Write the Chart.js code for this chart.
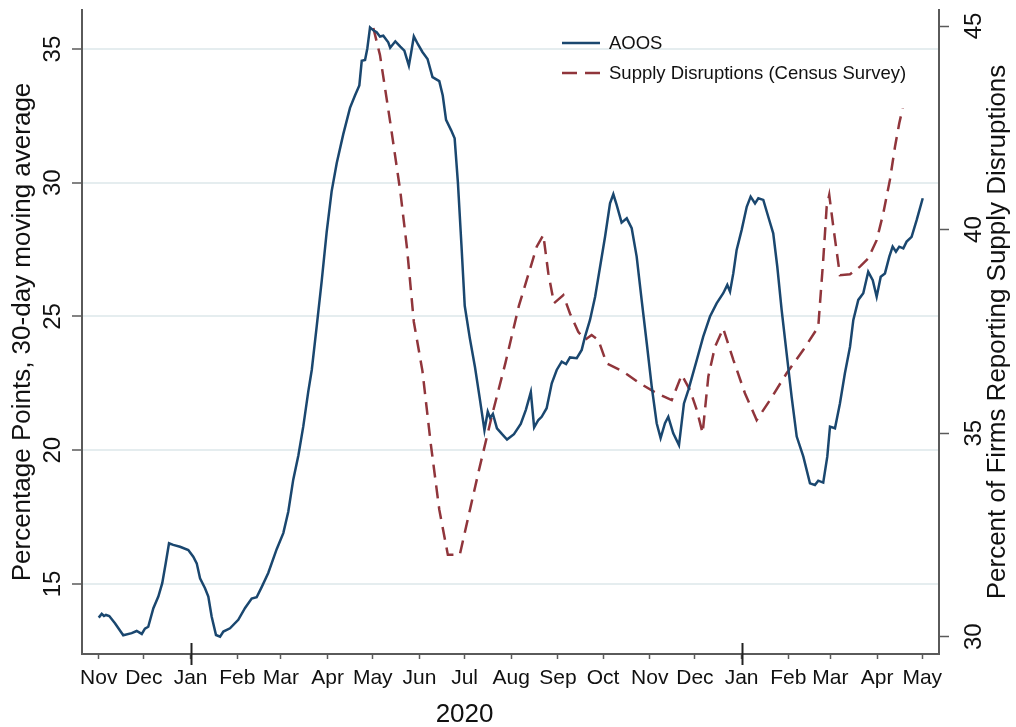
<!DOCTYPE html>
<html>
<head>
<meta charset="utf-8">
<script src="https://cdn.jsdelivr.net/npm/chart.js@4.4.1/dist/chart.umd.min.js"></script>
<style>
  html, body { margin: 0; padding: 0; background: #ffffff; }
  #wrap { width: 1016px; height: 727px; position: relative; }
</style>
</head>
<body>
<div id="wrap"><canvas id="c" width="1016" height="727"></canvas></div>
<script>
// ---------- DATA (x = days since 1 Nov 2019) ----------
const monthLabels = ["Nov","Dec","Jan","Feb","Mar","Apr","May","Jun","Jul","Aug","Sep","Oct","Nov","Dec","Jan","Feb","Mar","Apr","May"];
const monthTickDays = [0,30,61,92,121,152,182,213,243,274,305,335,366,396,427,458,486,517,547];
const yearLabel = "2020";
const yearLabelDay = 243;

const leftTicks = [15,20,25,30,35];
const rightTicks = [30,35,40,45];

const aoosDays = [0,2.0,3.5,4.8,7.0,10.8,16.3,21.9,25.2,28.6,30.7,32.9,36.3,39.6,42.2,44.5,46.7,49.5,54.0,59.5,62.8,65.1,67.3,70.6,72.8,75.0,77.9,80.6,82.8,87.2,92.7,97.2,101.6,104.9,108.3,112.6,118.2,122.6,125.9,129.2,132.6,135.9,139.2,141.5,144.8,148.1,151.4,154.7,158.1,162.4,166.9,170.2,173.1,174.7,176.9,178.4,180.2,182.4,184.6,186.8,189.0,192.3,193.6,197.0,200.3,203.0,206.0,207.5,209.3,212.1,215.0,218.4,221.7,226.2,228.5,230.7,234.1,236.4,238.6,240.9,243.1,246.5,249.9,253.2,256.2,258.4,260.0,261.8,264.5,267.9,271.2,275.8,280.3,283.7,287.0,289.2,292.0,294.2,297.5,300.9,304.2,307.5,310.4,313.0,317.5,320.8,323.0,326.3,329.7,333.0,336.3,339.6,341.8,344.0,347.3,350.7,354.0,357.3,360.6,364.0,367.3,370.6,373.2,376.1,378.3,381.6,385.4,388.7,391.6,397.2,401.5,406.0,410.4,414.8,417.5,419.3,421.5,423.7,427.0,430.4,433.0,435.9,438.1,441.4,444.7,448.0,450.7,453.6,456.9,460.2,463.6,468.0,472.4,475.7,477.9,481.2,483.9,485.7,489.0,492.3,495.6,499.0,501.2,504.5,507.8,511.1,514.1,516.7,519.4,522.2,525.1,527.3,529.5,531.7,534.4,536.6,539.9,543.3,547.3];
const aoosValues = [13.74,13.88,13.80,13.84,13.80,13.53,13.08,13.16,13.24,13.13,13.33,13.40,14.09,14.53,15.03,15.77,16.52,16.46,16.39,16.27,16.02,15.77,15.21,14.84,14.53,13.78,13.09,13.03,13.22,13.34,13.66,14.10,14.45,14.50,14.89,15.41,16.30,16.90,17.70,18.90,19.80,20.90,22.20,23.00,24.64,26.32,28.15,29.68,30.74,31.81,32.80,33.26,33.64,34.56,34.59,35.02,35.81,35.70,35.63,35.47,35.50,35.25,35.05,35.29,35.09,34.94,34.38,34.86,35.47,35.17,34.89,34.63,33.95,33.80,33.26,32.35,31.96,31.66,29.98,27.69,25.40,24.18,23.11,21.89,20.75,21.44,21.21,21.36,20.82,20.60,20.40,20.60,20.98,21.51,22.17,20.85,21.13,21.25,21.57,22.50,23.00,23.31,23.22,23.47,23.44,23.75,24.25,24.87,25.74,26.86,27.98,29.23,29.57,29.17,28.51,28.67,28.30,27.24,25.62,24.00,22.38,21.01,20.45,21.01,21.25,20.63,20.19,21.75,22.25,23.37,24.25,25.00,25.49,25.87,26.18,25.93,26.62,27.49,28.23,29.10,29.48,29.23,29.42,29.36,28.73,28.11,26.86,25.24,23.62,22.00,20.51,19.76,18.76,18.70,18.86,18.79,19.76,20.88,20.82,21.75,22.88,23.87,24.87,25.62,25.87,26.67,26.36,25.74,26.49,26.61,27.24,27.61,27.42,27.61,27.55,27.80,27.98,28.61,29.42];

const supplyDays = [182.4,186.8,193.6,200.3,204.8,209.3,215.0,220.6,226.2,231.9,239.8,245.3,252.1,261.1,270.1,279.1,288.1,290.9,295.3,298.6,302.4,308.6,313.0,318.5,323.0,327.4,331.8,337.4,348.4,359.5,370.6,380.6,387.2,392.7,397.2,401.1,404.9,409.3,414.8,421.5,429.2,437.0,445.8,456.9,467.9,477.9,481.2,483.5,485.2,487.9,492.3,499.0,505.6,511.1,516.7,521.1,525.5,528.9,531.7,534.0];
const supplyValues = [44.95,44.29,42.64,40.94,39.53,37.73,36.53,34.72,33.12,32.01,32.01,32.91,34.02,35.42,36.72,38.13,39.23,39.58,39.87,38.93,38.19,38.39,37.94,37.49,37.29,37.41,37.29,36.71,36.51,36.22,35.98,35.81,36.43,36.06,35.57,35.00,36.39,37.12,37.57,36.80,35.98,35.32,35.81,36.47,37.04,37.61,39.25,40.56,40.85,40.07,38.88,38.90,39.09,39.29,39.74,40.40,41.22,42.04,42.61,42.98];

const seriesNames = ["AOOS", "Supply Disruptions (Census Survey)"];
const leftTitle = "Percentage Points, 30-day moving average";
const rightTitle = "Percent of Firms Reporting Supply Disruptions";

// ---------- STYLE ----------
const FONT = '"Liberation Sans", Arial, Helvetica, sans-serif';
const NAVY = '#1a476f';
const MAROON = '#90353b';
const AXIS = '#5a5a5a';
const GRID = '#e5edef';
const TEXT = '#111111';
const DASH = [13, 8];

const overlay = {
  id: 'overlay',
  afterDraw(chart) {
    const ctx = chart.ctx;
    const xs = chart.scales.x, yl = chart.scales.y, yr = chart.scales.y1;
    const area = chart.chartArea;
    ctx.save();
    ctx.fillStyle = TEXT;

    function rotText(txt, cx, cy, size) {
      ctx.save();
      ctx.font = size + 'px ' + FONT;
      ctx.textAlign = 'center';
      ctx.textBaseline = 'middle';
      ctx.translate(cx, cy);
      ctx.rotate(-Math.PI / 2);
      ctx.fillText(txt, 0, 0);
      ctx.restore();
    }
    // rotated y tick labels
    leftTicks.forEach(v => rotText(String(v), 53, yl.getPixelForValue(v), 24));
    rightTicks.forEach(v => rotText(String(v), 974, yr.getPixelForValue(v), 24));
    // axis titles
    const midY = (area.top + area.bottom) / 2;
    rotText(leftTitle, 23, midY, 26);
    rotText(rightTitle, 998, midY, 26);

    // major (January) ticks crossing the axis
    ctx.strokeStyle = '#222';
    ctx.lineWidth = 2;
    monthTickDays.forEach((d, i) => {
      if (monthLabels[i] === 'Jan') {
        const px = Math.round(xs.getPixelForValue(d)) + 0.5;
        ctx.beginPath();
        ctx.moveTo(px, xs.top - 11);
        ctx.lineTo(px, xs.top + 11);
        ctx.stroke();
      }
    });

    // year label
    ctx.font = '26px ' + FONT;
    ctx.textAlign = 'center';
    ctx.textBaseline = 'alphabetic';
    ctx.fillText(yearLabel, xs.getPixelForValue(yearLabelDay), 722);

    // legend
    const lx0 = 562, lx1 = 600, tx = 609;
    const rows = [43, 73];
    ctx.lineWidth = 2.5;
    ctx.strokeStyle = NAVY;
    ctx.setLineDash([]);
    ctx.beginPath(); ctx.moveTo(lx0, rows[0]); ctx.lineTo(lx1, rows[0]); ctx.stroke();
    ctx.strokeStyle = MAROON;
    ctx.setLineDash([15, 8]);
    ctx.beginPath(); ctx.moveTo(lx0, rows[1]); ctx.lineTo(lx1 + 2, rows[1]); ctx.stroke();
    ctx.setLineDash([]);
    ctx.font = '18.5px ' + FONT;
    ctx.textAlign = 'left';
    ctx.textBaseline = 'middle';
    ctx.fillStyle = TEXT;
    ctx.fillText(seriesNames[0], tx, rows[0] + 1);
    ctx.fillText(seriesNames[1], tx, rows[1] + 1);
    ctx.restore();
  }
};

new Chart(document.getElementById('c'), {
  type: 'line',
  data: {
    datasets: [
      {
        label: seriesNames[0],
        data: aoosDays.map((d, i) => ({ x: d, y: aoosValues[i] })),
        yAxisID: 'y',
        borderColor: NAVY,
        borderWidth: 2.5,
        pointRadius: 0,
        tension: 0,
        fill: false
      },
      {
        label: seriesNames[1],
        data: supplyDays.map((d, i) => ({ x: d, y: supplyValues[i] })),
        yAxisID: 'y1',
        borderColor: MAROON,
        borderWidth: 2.5,
        borderDash: DASH,
        pointRadius: 0,
        tension: 0,
        fill: false
      }
    ]
  },
  options: {
    responsive: false,
    animation: false,
    devicePixelRatio: 1,
    layout: { padding: { top: 10, left: 0, right: 0, bottom: 0 } },
    plugins: { legend: { display: false }, tooltip: { enabled: false } },
    scales: {
      x: {
        type: 'linear',
        position: 'bottom',
        min: -11.1,
        max: 558.1,
        afterBuildTicks: s => { s.ticks = monthTickDays.map(v => ({ value: v })); },
        afterFit: s => { s.height = 73; },
        ticks: {
          autoSkip: false, maxRotation: 0, minRotation: 0, padding: 7,
          color: TEXT, font: { family: FONT, size: 21 },
          callback: (v, i) => monthLabels[i]
        },
        grid: { display: true, drawOnChartArea: false, drawTicks: true, tickLength: 5, tickColor: AXIS, tickWidth: 1.5 },
        border: { display: true, color: AXIS, width: 2 }
      },
      y: {
        type: 'linear',
        position: 'left',
        min: 12.38,
        max: 36.46,
        afterBuildTicks: s => { s.ticks = leftTicks.map(v => ({ value: v })); },
        afterFit: s => { s.width = 82; },
        ticks: { display: false },
        grid: { display: true, drawOnChartArea: true, color: GRID, lineWidth: 2, drawTicks: true, tickLength: 10, tickColor: AXIS, tickWidth: 1.5 },
        border: { display: true, color: AXIS, width: 2 }
      },
      y1: {
        type: 'linear',
        position: 'right',
        min: 29.575,
        max: 45.393,
        afterBuildTicks: s => { s.ticks = rightTicks.map(v => ({ value: v })); },
        afterFit: s => { s.width = 77; },
        ticks: { display: false },
        grid: { display: true, drawOnChartArea: false, drawTicks: true, tickLength: 10, tickColor: AXIS, tickWidth: 1.5 },
        border: { display: true, color: AXIS, width: 2 }
      }
    }
  },
  plugins: [overlay]
});
</script>
</body>
</html>
